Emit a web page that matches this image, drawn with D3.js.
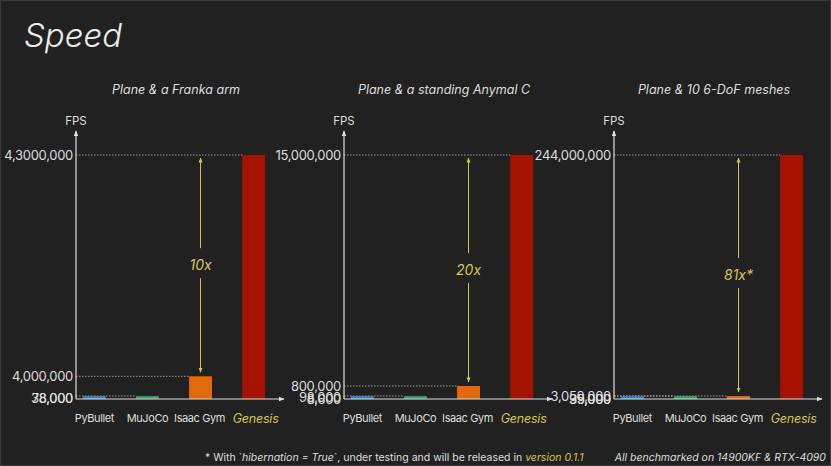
<!DOCTYPE html>
<html><head><meta charset="utf-8">
<script src="https://cdn.jsdelivr.net/npm/d3@7"></script>
<style>
html,body{margin:0;padding:0;background:#212121;}
svg{display:block;font-family:Inter,"Open Sans",sans-serif;}
</style></head>
<body>
<script>
const categories = ["PyBullet", "MuJoCo", "Isaac Gym", "Genesis"];
const panelTitles = ["Plane & a Franka arm", "Plane & a standing Anymal C", "Plane & 10 6-DoF meshes"];
const frankaFPS = [38000, 78000, 4000000, 43000000];
const anymalFPS = [8600, 98000, 800000, 15000000];
const meshesFPS = [35000, 99000, 3000000, 244000000];
const frankaTickLabels = ["38,000", "78,000", "4,000,000", "4,3000,000"];
const anymalTickLabels = ["8,600", "98,000", "800,000", "15,000,000"];
const meshesTickLabels = ["35,000", "99,000", "3,050,000", "244,000,000"];
const speedupLabels = ["10x", "20x", "81x*"];

const panels = [
  {title: panelTitles[0], values: frankaFPS, ticks: frankaTickLabels, speedup: speedupLabels[0]},
  {title: panelTitles[1], values: anymalFPS, ticks: anymalTickLabels, speedup: speedupLabels[1]},
  {title: panelTitles[2], values: meshesFPS, ticks: meshesTickLabels, speedup: speedupLabels[2]}
];

const W = 831, H = 466;
const colors = ["#3d7ebf", "#3a9a66", "#e2690c", "#a51300"];
const yellow = "#d8c64a";
const txt = "#dedede";

const svg = d3.select("body").append("svg").attr("width", W).attr("height", H);
svg.append("rect").attr("x",0.5).attr("y",0.5).attr("width",W-1).attr("height",H-1)
  .attr("fill","#212121").attr("stroke","#3a3a3a");

const defs = svg.append("defs");
function marker(id, color){
  defs.append("marker").attr("id", id).attr("viewBox","0 0 10 10").attr("refX",9).attr("refY",5)
    .attr("markerWidth",5).attr("markerHeight",5).attr("orient","auto-start-reverse")
    .append("path").attr("d","M0,1 L10,5 L0,9 z").attr("fill", color);
}
marker("arrW", "#e0e0e0");
marker("arrY", yellow);

svg.append("text").attr("x", 24).attr("y", 47).attr("fill", "#ececec")
  .attr("font-size", 33).attr("font-style","italic").attr("font-weight", 300).text("Speed");

const baseY = 399, topY = 155, arrowTopY = 131;
const axisXs = [76, 344, 614];

panels.forEach((p, i) => {
  const ax = axisXs[i];
  const g = svg.append("g");
  const x = d3.scaleBand().domain(categories).range([ax, ax + 196]).paddingInner(0.568).paddingOuter(0.13);
  const y = d3.scaleLinear().domain([0, d3.max(p.values)]).range([baseY, topY]);
  const barTop = v => Math.min(y(v), baseY - 3);

  // title
  g.append("text").attr("x", ax + 100).attr("y", 94).attr("text-anchor","middle")
    .attr("fill", txt).attr("font-size", 12.5).attr("font-style","italic").text(p.title);
  g.append("text").attr("x", ax).attr("y", 125).attr("text-anchor","middle")
    .attr("fill", txt).attr("font-size", 11.5).text("FPS");

  // dashed guide lines
  p.values.forEach((v, k) => {
    if (k === 0) return;
    g.append("line").attr("x1", ax).attr("x2", x(categories[k]))
      .attr("y1", barTop(v)).attr("y2", barTop(v))
      .attr("stroke", "#bdbdbd").attr("stroke-width", 0.8).attr("stroke-dasharray", "1.5,1.5");
  });

  // bars
  g.selectAll("rect.bar").data(p.values).join("rect").attr("class","bar")
    .attr("x", (d, k) => x(categories[k])).attr("width", x.bandwidth())
    .attr("y", d => barTop(d)).attr("height", d => baseY - barTop(d))
    .attr("fill", (d, k) => colors[k]);

  // y axis (tick labels)
  const yAxis = d3.axisLeft(y).tickValues(p.values).tickSize(0).tickPadding(3)
    .tickFormat((d, k) => p.ticks[k]);
  const ya = g.append("g").attr("transform", `translate(${ax},0)`).call(yAxis);
  ya.select(".domain").remove();
  ya.selectAll("text").attr("fill", txt).attr("font-size", 13).attr("font-family", "Inter, sans-serif")
    .attr("letter-spacing", "-0.3");

  // x axis (category labels)
  const xAxis = d3.axisBottom(x).tickSize(0).tickPadding(15);
  const xa = g.append("g").attr("transform", `translate(0,${baseY})`).call(xAxis);
  xa.select(".domain").remove();
  xa.selectAll("text").attr("font-family", "Inter, sans-serif")
    .attr("fill", d => d === "Genesis" ? yellow : txt)
    .attr("font-size", d => d === "Genesis" ? 12.5 : 11)
    .attr("font-style", d => d === "Genesis" ? "italic" : "normal")
    .attr("letter-spacing", d => d === "Genesis" ? "-0.2" : "-0.4")
    .attr("dx", d => d === "Isaac Gym" ? -1 : (d === "Genesis" ? 2 : 0));

  // axis lines with arrows
  g.append("line").attr("x1", ax).attr("x2", ax).attr("y1", baseY).attr("y2", arrowTopY)
    .attr("stroke", "#e0e0e0").attr("stroke-width", 1.2).attr("marker-end", "url(#arrW)");
  g.append("line").attr("x1", ax).attr("x2", ax + 208).attr("y1", baseY).attr("y2", baseY)
    .attr("stroke", "#e0e0e0").attr("stroke-width", 1.2).attr("marker-end", "url(#arrW)");

  // speed-up arrow
  const cx = x(categories[2]) + x.bandwidth() / 2;
  const yTop = y(p.values[3]) + 3, yBot = barTop(p.values[2]) - 4;
  const mid = (yTop + yBot) / 2;
  g.append("line").attr("x1", cx).attr("x2", cx).attr("y1", mid - 17).attr("y2", yTop)
    .attr("stroke", yellow).attr("stroke-width", 1).attr("marker-end", "url(#arrY)");
  g.append("line").attr("x1", cx).attr("x2", cx).attr("y1", mid + 13).attr("y2", yBot)
    .attr("stroke", yellow).attr("stroke-width", 1).attr("marker-end", "url(#arrY)");
  g.append("text").attr("x", cx).attr("y", mid + 5).attr("text-anchor","middle")
    .attr("fill", yellow).attr("font-size", 14).attr("font-style","italic").text(p.speedup);
});

// footnotes
const foot = svg.append("text").attr("x", 205).attr("y", 461).attr("fill", txt).attr("font-size", 10.5);
foot.append("tspan").text("* With `");
foot.append("tspan").attr("font-style","italic").text("hibernation = True");
foot.append("tspan").text("`, under testing and will be released in ");
foot.append("tspan").attr("font-style","italic").attr("fill", yellow).text("version 0.1.1");
svg.append("text").attr("x", 826).attr("y", 461).attr("text-anchor","end").attr("fill", txt)
  .attr("font-size", 10.5).attr("font-style","italic").text("All benchmarked on 14900KF & RTX-4090");
</script>
</body></html>
